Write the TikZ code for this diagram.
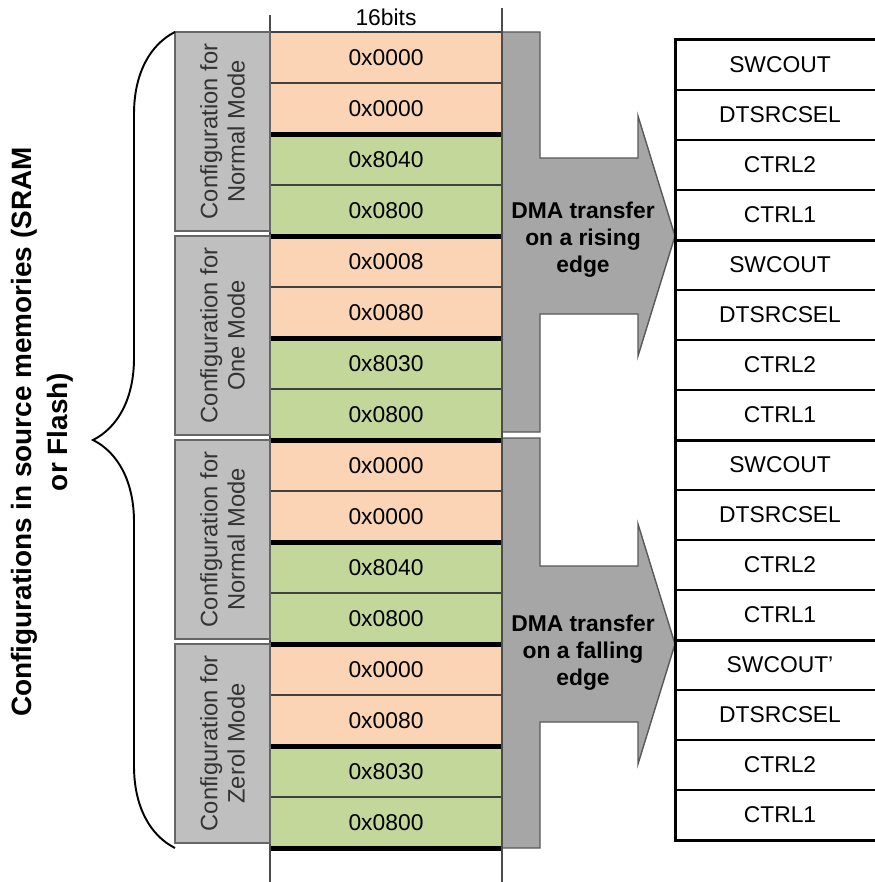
\documentclass[tikz,border=0pt]{standalone}
\usepackage{fontspec}
\setmainfont{Liberation Sans}
\usetikzlibrary{decorations.pathreplacing}
\definecolor{peach}{HTML}{FAD4B4}
\definecolor{leaf}{HTML}{C4D79B}
\definecolor{boxgray}{HTML}{BFBFBF}
\definecolor{arrowgray}{HTML}{A6A6A6}
\begin{document}
\begin{tikzpicture}[
    cell/.style={draw=black!75, line width=0.6pt, minimum width=4.64cm, minimum height=1.02cm, inner sep=0pt},
    reg/.style={draw=black, line width=0.8pt, minimum width=4.16cm, minimum height=1cm, inner sep=0pt},
    cfgbox/.style={draw=black!60, line width=0.8pt, fill=boxgray, rotate=90, minimum width=3.98cm, minimum height=1.9cm, align=center, text=black!80, font=\fontsize{13.5}{15.5}\selectfont},
    sep/.style={draw=black, line width=2.6pt},
    regedge/.style={draw=black, line width=1.8pt},
    colline/.style={draw=black!70, line width=0.8pt},
    dmaarrow/.style={draw=black!65, line width=0.8pt, fill=arrowgray},
    font=\fontsize{13}{15.5}\selectfont
  ]
    \useasboundingbox (0,0) rectangle (17.5,-17.64);
    \clip (0,0) rectangle (17.5,-17.64);
    % DMA転送の矢印（立ち上がり）
    \path[dmaarrow] (10.04,-0.64) -- (10.8,-0.64) -- (10.8,-3.16) -- (12.76,-3.16) -- (12.76,-2.32)
      -- (13.5,-4.72) -- (12.76,-7.12) -- (12.76,-6.28) -- (10.8,-6.28) -- (10.8,-8.64) -- (10.04,-8.64) -- cycle;
    \node[font=\bfseries\fontsize{13}{15.3}\selectfont, align=center] (rise) at (11.66,-4.8) {DMA transfer\\on a rising\\edge};
    % DMA転送の矢印（立ち下がり）
    \path[dmaarrow] (10.04,-8.76) -- (10.8,-8.76) -- (10.8,-11.32) -- (12.76,-11.32) -- (12.76,-10.48)
      -- (13.5,-12.88) -- (12.76,-15.28) -- (12.76,-14.44) -- (10.8,-14.44) -- (10.8,-16.96) -- (10.04,-16.96) -- cycle;
    \node[font=\bfseries\fontsize{13}{15.3}\selectfont, align=center] (fall) at (11.66,-13.06) {DMA transfer\\on a falling\\edge};
    % メモリ上の設定値（16ビット）
    \foreach \val/\col [count=\i] in {0x0000/peach, 0x0000/peach, 0x8040/leaf, 0x0800/leaf,
        0x0008/peach, 0x0080/peach, 0x8030/leaf, 0x0800/leaf,
        0x0000/peach, 0x0000/peach, 0x8040/leaf, 0x0800/leaf,
        0x0000/peach, 0x0080/peach, 0x8030/leaf, 0x0800/leaf}
      \node[cell, fill=\col] (m\i) at (7.72,-0.13-1.02*\i) {\val};
    % 2語ごとの区切り（太線）
    \foreach \i in {2,4,...,16}
      \draw[sep] (m\i.south west) -- (m\i.south east);
    % 列の縦線
    \draw[colline] (5.4,-0.3) -- (5.4,-17.64);
    \draw[colline] (10.04,-0.16) -- (10.04,-17.64);
    \node (bits) at (7.72,-0.34) {16bits};
    % モードごとの設定ブロック
    \node[cfgbox] (c1) at (4.45,-2.63) {Configuration for\\Normal Mode};
    \node[cfgbox] (c2) at (4.45,-6.71) {Configuration for\\One Mode};
    \node[cfgbox] (c3) at (4.45,-10.79) {Configuration for\\Normal Mode};
    \node[cfgbox] (c4) at (4.45,-14.87) {Configuration for\\Zerol Mode};
    % 波かっこと説明
    \draw[line width=1.1pt, decorate, decoration={brace, amplitude=1.64cm}] (3.5,-16.96) -- (3.5,-0.64);
    \node[rotate=90, align=center, font=\bfseries\fontsize{15.9}{20.4}\selectfont] (src) at (0.84,-8.64)
      {Configurations in source memories (SRAM\\or Flash)};
    % 転送先のレジスタ
    \foreach \reg [count=\i] in {SWCOUT, DTSRCSEL, CTRL2, CTRL1, SWCOUT, DTSRCSEL, CTRL2, CTRL1,
        SWCOUT, DTSRCSEL, CTRL2, CTRL1, SWCOUT', DTSRCSEL, CTRL2, CTRL1}
      \node[reg] (r\i) at (15.6,-0.3-\i) {\reg};
    \foreach \i in {4,8,12}
      \draw[regedge] (r\i.south west) -- (r\i.south east);
    \draw[regedge] (r1.north east) -- (r1.north west) -- (r16.south west) -- (r16.south east);
  \end{tikzpicture}
\end{document}
